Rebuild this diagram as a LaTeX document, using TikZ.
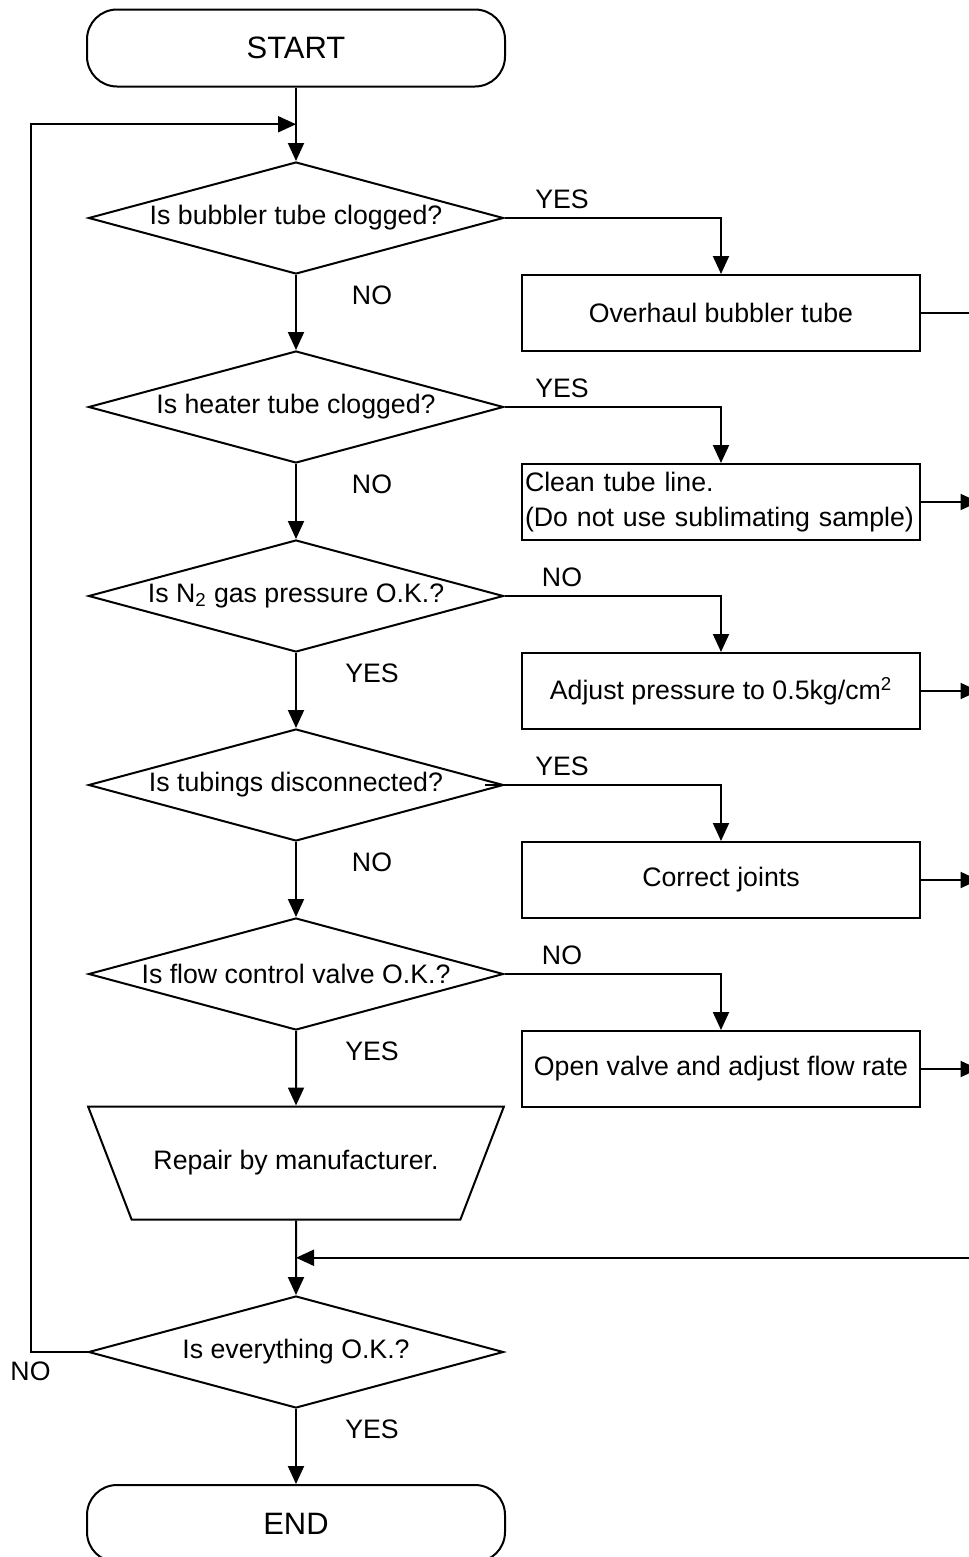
\documentclass[tikz,border=0pt]{standalone}
\usepackage{fontspec}
\setmainfont{Liberation Sans}
\usetikzlibrary{arrows.meta,positioning,shapes.geometric,calc}

\begin{document}
\begin{tikzpicture}[font=\fontsize{15.2}{20}\selectfont,line width=0.4mm,
   node distance=37.8mm,on grid,
   term/.style={draw,rounded corners=6mm,minimum width=83.6mm,minimum height=15.4mm,
                font=\fontsize{17.6}{20}\selectfont},
   decide/.style={draw,diamond,aspect=3.7,inner sep=0pt,minimum width=83mm,minimum height=22.4mm},
   act/.style={draw,minimum width=79.6mm,minimum height=15.2mm,inner sep=0.6mm},
   manual/.style={draw,trapezium,trapezium angle=43,shape border rotate=180,
                  trapezium stretches=true,minimum width=83.4mm,minimum height=22.6mm},
   lbl/.style={inner sep=0pt},
   arr/.style={-{Triangle[length=3.6mm,width=3.2mm]}}]
  \useasboundingbox (0,0) rectangle (193.8mm,-311.4mm);
  \clip (0,0) rectangle (193.8mm,-311.4mm);

  % main column
  \node[term] (start) at (59.2mm,-9.6mm) {START};
  \node[decide,below=34mm of start] (d1) {Is bubbler tube clogged?};
  \node[decide,below=of d1] (d2) {Is heater tube clogged?};
  \node[decide,below=of d2] (d3) {Is N\textsubscript{2} gas pressure O.K.?};
  \node[decide,below=of d3] (d4) {Is tubings disconnected?};
  \node[decide,below=of d4] (d5) {Is flow control valve O.K.?};
  \node[manual,below=of d5] (repair) {Repair by manufacturer.};
  \node[decide,below=of repair] (d6) {Is everything O.K.?};
  \node[term,below=34.3mm of d6] (stop) {END};

  % remedies
  \node[act,below right=19mm and 85mm of d1] (b1) {Overhaul bubbler tube};
  \node[act,below right=19mm and 85mm of d2,align=left,text width=78.4mm] (b2)
       {Clean tube line.\\(Do not use sublimating sample)};
  \node[act,below right=19mm and 85mm of d3] (b3) {Adjust pressure to 0.5kg/cm\textsuperscript{2}};
  \node[act,below right=19mm and 85mm of d4] (b4) {Correct joints};
  \node[act,below right=19mm and 85mm of d5] (b5) {Open valve and adjust flow rate};

  % answers
  \node[lbl] (y1) at ([shift={(11.5mm,3.8mm)}]d1.east) {YES};
  \node[lbl] (n1) at ([shift={(15.2mm,-4mm)}]d1.south) {NO};
  \node[lbl] (y2) at ([shift={(11.5mm,3.8mm)}]d2.east) {YES};
  \node[lbl] (n2) at ([shift={(15.2mm,-4mm)}]d2.south) {NO};
  \node[lbl] (n3) at ([shift={(11.5mm,3.8mm)}]d3.east) {NO};
  \node[lbl] (y3) at ([shift={(15.2mm,-4mm)}]d3.south) {YES};
  \node[lbl] (y4) at ([shift={(11.5mm,3.8mm)}]d4.east) {YES};
  \node[lbl] (n4) at ([shift={(15.2mm,-4mm)}]d4.south) {NO};
  \node[lbl] (n5) at ([shift={(11.5mm,3.8mm)}]d5.east) {NO};
  \node[lbl] (y5) at ([shift={(15.2mm,-4mm)}]d5.south) {YES};
  \node[lbl] (n6) at ([shift={(-11.4mm,-3.8mm)}]d6.west) {NO};
  \node[lbl] (y6) at ([shift={(15.2mm,-4mm)}]d6.south) {YES};

  % connectors
  \coordinate (loopin) at ($(start.south)!0.5!(d1.north)$);
  \coordinate (ret) at ($(repair.south)!0.5!(d6.north)$);
  \coordinate[right=136.4mm of ret] (retR);
  \foreach \i in {1,...,5} \coordinate[right=11.5mm of b\i.east] (o\i);

  \draw[arr] (start) -- (d1);
  \foreach \a/\b in {d1/d2,d2/d3,d3/d4,d4/d5,d5/repair,repair/d6,d6/stop}
    \draw[arr] (\a) -- (\b);
  \draw[arr] (d1.east) -| (b1.north);
  \draw[arr] (d2.east) -| (b2.north);
  \draw[arr] (d3.east) -| (b3.north);
  \draw[arr] ([xshift=-4mm]d4.east) -| (b4.north);
  \draw[arr] (d5.east) -| (b5.north);
  \draw (b1) -- (o1);
  \foreach \i in {2,...,5} \draw[arr] (b\i) -- (o\i);
  \draw[arr] (retR) -- (ret);
  \draw[arr] (d6.west) -- ++(-11.4mm,0) |- (loopin);
\end{tikzpicture}
\end{document}
